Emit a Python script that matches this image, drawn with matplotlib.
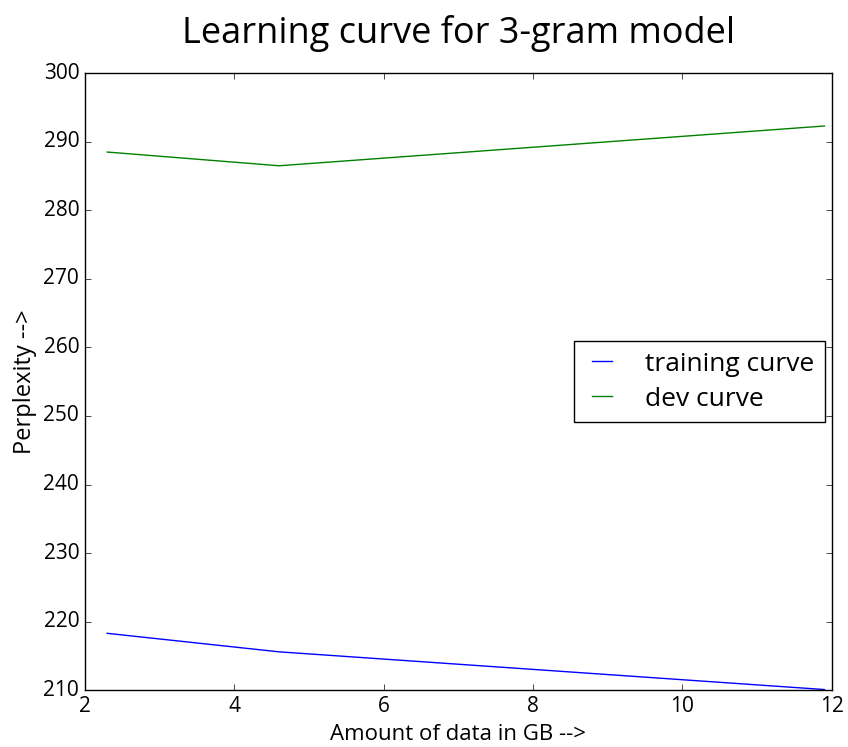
import matplotlib
matplotlib.use('Agg')
import matplotlib.pyplot as plt

# data
data_gb = [2.3, 4.6, 11.9]
training_ppl = [218.3, 215.6, 210.1]
dev_ppl = [288.5, 286.5, 292.3]

plt.style.use('classic')
plt.rcParams['font.family'] = ['Open Sans', 'DejaVu Sans']

fig = plt.figure(figsize=(8.48, 7.47), dpi=100, facecolor='white')
ax = fig.add_axes([0.100, 0.076, 0.881, 0.826])

ax.plot(data_gb, training_ppl, color='b', label='training curve')
ax.plot(data_gb, dev_ppl, color='g', label='dev curve')

ax.set_xlim(2, 12)
ax.set_ylim(210, 300)
ax.set_title('Learning curve for 3-gram model', fontsize=26, y=1.038)
ax.set_xlabel('Amount of data in GB -->', fontsize=16)
ax.set_ylabel('Perplexity -->', fontsize=17)
ax.tick_params(labelsize=15)
ax.legend(loc='center right', fontsize=19, labelspacing=0.38,
          handlelength=1.35, handletextpad=0.95,
          bbox_to_anchor=(1.008, 0.5))

fig.savefig('out.png', dpi=100, facecolor='white')
